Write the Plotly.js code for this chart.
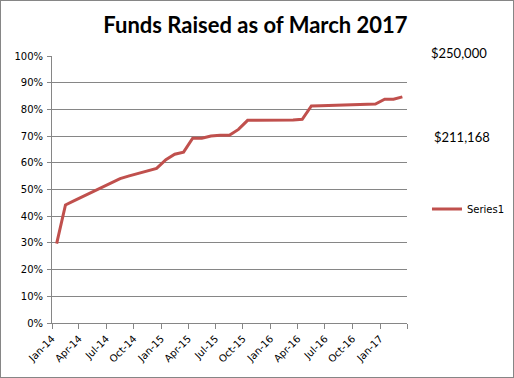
<!DOCTYPE html>
<html>
<head>
<meta charset="utf-8">
<script src="https://cdn.plot.ly/plotly-3.0.1.min.js"></script>
<style>
  html, body { margin: 0; padding: 0; background: #fff; }
  #chart { width: 514px; height: 378px; box-sizing: border-box; border: 1px solid #868686; }
</style>
</head>
<body>
<div id="chart"></div>
<script>
const months = [
  '2014-01','2014-02','2014-03','2014-04','2014-05','2014-06','2014-07','2014-08','2014-09','2014-10','2014-11','2014-12',
  '2015-01','2015-02','2015-03','2015-04','2015-05','2015-06','2015-07','2015-08','2015-09','2015-10','2015-11','2015-12',
  '2016-01','2016-02','2016-03','2016-04','2016-05','2016-06','2016-07','2016-08','2016-09','2016-10','2016-11','2016-12',
  '2017-01','2017-02','2017-03'
];
const series1 = [
  0.297, 0.442, 0.458, 0.474, 0.490, 0.506, 0.523, 0.541, 0.551, 0.561, 0.570, 0.579,
  0.612, 0.632, 0.640, 0.692, 0.692, 0.700, 0.703, 0.703, 0.725, 0.759, 0.759, 0.759,
  0.759, 0.759, 0.760, 0.763, 0.813, 0.814, 0.815, 0.816, 0.817, 0.819, 0.820, 0.820,
  0.838, 0.838, 0.847
];
const tickDates = ['2014-01-01','2014-04-01','2014-07-01','2014-10-01','2015-01-01','2015-04-01','2015-07-01',
  '2015-10-01','2016-01-01','2016-04-01','2016-07-01','2016-10-01','2017-01-01','2017-04-01'];
const tickLabels = ['Jan-14','Apr-14','Jul-14','Oct-14','Jan-15','Apr-15','Jul-15',
  'Oct-15','Jan-16','Apr-16','Jul-16','Oct-16','Jan-17',''];
const goalLabel = '$250,000';
const raisedLabel = '$211,168';
const seriesName = 'Series1';

const gray = '#868686';
const tickFont = {family: 'DejaVu Sans', size: 10, color: '#000'};

const trace = {
  type: 'scatter', mode: 'lines', name: seriesName,
  x: months, y: series1,
  xperiod: 'M1', xperiodalignment: 'middle',
  line: {color: '#C0504D', width: 3}
};

const layout = {
  width: 512, height: 376,
  margin: {l: 51, r: 106, t: 55, b: 54},
  paper_bgcolor: '#fff', plot_bgcolor: '#fff',
  title: {text: 'Funds Raised as of March 2017', font: {family: 'Lato', size: 22, color: '#000', weight: 'bold'},
          x: 0.497, xref: 'container', y: 0.935, yref: 'container', xanchor: 'center', yanchor: 'middle'},
  xaxis: {
    type: 'date', range: ['2014-01-01', '2017-04-01'],
    tickmode: 'array', tickvals: tickDates, ticktext: tickLabels, tickangle: -45,
    showgrid: false, zeroline: false, showline: true, linecolor: gray, linewidth: 1,
    ticks: 'outside', ticklen: 5, tickcolor: gray, tickfont: tickFont
  },
  yaxis: {
    range: [0, 1], dtick: 0.1, tickformat: '.0%',
    showgrid: true, gridcolor: gray, gridwidth: 1, zeroline: false,
    showline: true, linecolor: gray, linewidth: 1,
    ticks: 'outside', ticklen: 4, tickcolor: gray, tickfont: tickFont, ticklabelstandoff: 2
  },
  showlegend: true,
  legend: {xref: 'container', yref: 'container', x: 0.832, xanchor: 'left', y: 0.447, yanchor: 'middle',
           font: tickFont, bgcolor: 'rgba(0,0,0,0)'},
  annotations: [
    {text: goalLabel, xref: 'paper', yref: 'paper', x: 1.062, y: 1.011, xanchor: 'left', yanchor: 'middle',
     showarrow: false, font: {family: 'Lato', size: 13, color: '#000'}},
    {text: raisedLabel, xref: 'paper', yref: 'paper', x: 1.07, y: 0.697, xanchor: 'left', yanchor: 'middle',
     showarrow: false, font: {family: 'Lato', size: 13, color: '#000'}}
  ]
};

Plotly.newPlot('chart', [trace], layout, {displayModeBar: false, staticPlot: true});
</script>
</body>
</html>
